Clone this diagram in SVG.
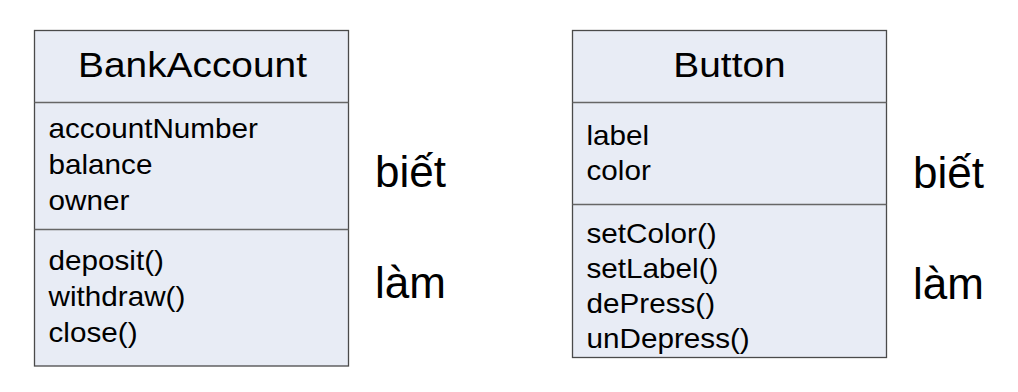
<svg xmlns="http://www.w3.org/2000/svg" width="1018" height="392" viewBox="0 0 1018 392">
  <style>
    .box { fill: #e8ecf5; stroke: #4a4a4a; stroke-width: 1.3; }
    .sep { stroke: #666; stroke-width: 1.3; }
    text { font-family: "Liberation Sans", Arial, sans-serif; fill: #000; }
    .title { font-size: 35px; text-anchor: middle; }
    .item { font-size: 28px; }
    .note { font-size: 44px; }
  </style>
  <rect width="1018" height="392" fill="#fff"/>

  <!-- Class: BankAccount -->
  <g id="bankaccount">
    <rect class="box" x="34.5" y="30.5" width="314" height="335.5"/>
    <line class="sep" x1="34.5" y1="102.5" x2="348.5" y2="102.5"/>
    <line class="sep" x1="34.5" y1="229.5" x2="348.5" y2="229.5"/>
    <g transform="matrix(1.11 0 0 1 192.5 0)">
      <text class="title" x="0" y="77">BankAccount</text>
    </g>
    <g transform="matrix(1.06 0 0 1 48.5 0)">
      <text class="item" x="0" y="138">accountNumber</text>
      <text class="item" x="0" y="174">balance</text>
      <text class="item" x="0" y="210">owner</text>
      <text class="item" x="0" y="270">deposit()</text>
      <text class="item" x="0" y="306">withdraw()</text>
      <text class="item" x="0" y="342">close()</text>
    </g>
  </g>

  <!-- Class: Button -->
  <g id="button">
    <rect class="box" x="572.5" y="30.5" width="314" height="327"/>
    <line class="sep" x1="572.5" y1="102.5" x2="886.5" y2="102.5"/>
    <line class="sep" x1="572.5" y1="204.5" x2="886.5" y2="204.5"/>
    <g transform="matrix(1.11 0 0 1 729.5 0)">
      <text class="title" x="0" y="77">Button</text>
    </g>
    <g transform="matrix(1.06 0 0 1 586.5 0)">
      <text class="item" x="0" y="145">label</text>
      <text class="item" x="0" y="180">color</text>
      <text class="item" x="0" y="243.5">setColor()</text>
      <text class="item" x="0" y="278.5">setLabel()</text>
      <text class="item" x="0" y="313.5">dePress()</text>
      <text class="item" x="0" y="348.5">unDepress()</text>
    </g>
  </g>

  <!-- Side labels -->
  <g id="labels-left">
    <text class="note" x="375" y="187">biết</text>
    <text class="note" x="375" y="298">làm</text>
  </g>
  <g id="labels-right">
    <text class="note" x="913" y="188">biết</text>
    <text class="note" x="913" y="299">làm</text>
  </g>

  <!-- No connectors in this drawing -->
  <g id="connectors"></g>
</svg>
